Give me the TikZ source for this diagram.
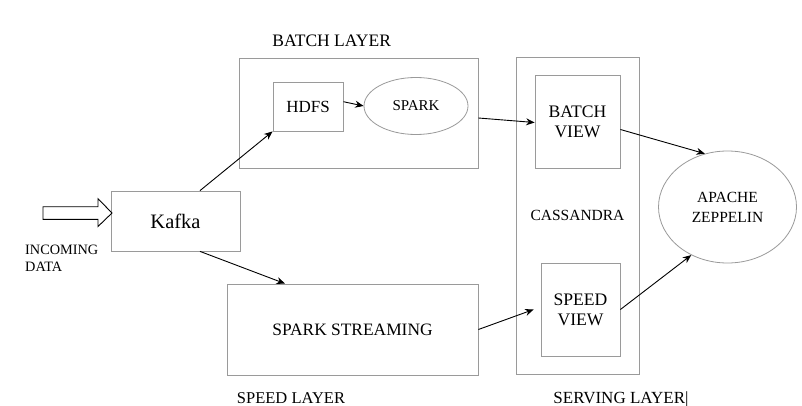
\documentclass[tikz,border=0pt]{standalone}
\usepackage{fontspec}
\setmainfont{Liberation Serif}
\usetikzlibrary{shapes.geometric,arrows.meta}
\definecolor{boxgray}{HTML}{9A9A9A}
\tikzset{
  box/.style={draw=boxgray, line width=0.8pt, rectangle, inner sep=0pt, align=center},
  oval/.style={draw=boxgray, line width=0.8pt, ellipse, inner sep=0pt, align=center},
  arr/.style={-{Stealth[length=8.5pt,width=7pt]}, line width=0.9pt, black},
  lbl/.style={inner sep=0pt, anchor=base},
}
\newcommand{\fsz}[2]{\fontsize{#1}{#2}\selectfont}
\begin{document}
\begin{tikzpicture}[x=1pt,y=-1pt]
\useasboundingbox[fill=white] (0,0) rectangle (802,406);

% containers
\node[box, minimum width=239pt, minimum height=110pt] (batch) at (358.5,113) {};
\node[box, minimum width=123pt, minimum height=317pt, font=\fsz{15.5}{18}] (cass) at (577.5,215.5) {CASSANDRA};
\node[box, minimum width=251pt, minimum height=91pt, font=\fsz{17.4}{20}] (stream) at (352.5,329.5) {SPARK STREAMING};

% inner nodes
\node[box, minimum width=129pt, minimum height=60pt, font=\fsz{20.5}{24}] (kafka) at (175.5,221) {Kafka};
\node[box, minimum width=70pt, minimum height=49pt, font=\fsz{17}{20}] (hdfs) at (308,106.5) {HDFS};
\node[oval, minimum width=104pt, minimum height=57pt, font=\fsz{15}{18}] (spark) at (416,106) {SPARK};
\node[box, fill=white, minimum width=85pt, minimum height=93pt, font=\fsz{17.6}{20}] (bview) at (577.5,121.5) {BATCH\\VIEW};
\node[box, fill=white, minimum width=79pt, minimum height=93pt, font=\fsz{17.6}{20}] (sview) at (580.5,309.5) {SPEED\\VIEW};
\node[oval, minimum width=138pt, minimum height=112pt, font=\fsz{15.5}{20}] (zep) at (727.5,207) {APACHE\\ZEPPELIN};

% labels
\node[lbl, font=\fsz{17.5}{20}] (lbatch) at (331.7,46.5) {BATCH LAYER};
\node[lbl, font=\fsz{16.5}{20}] (lspeed) at (291,403.5) {SPEED LAYER};
\node[lbl, font=\fsz{17}{20}] (lserv) at (621,403.5) {SERVING LAYER\textbar};
\node[inner sep=0pt, anchor=west, align=left, font=\fsz{14.3}{17}] (lin) at (25,258.5) {INCOMING\\DATA};

% input block arrow
\draw[line width=0.9pt, fill=white] (43,206.7) -- (98,206.7) -- (98,198.7) -- (112,213) -- (98,226.5) -- (98,219.3) -- (43,219.3) -- cycle;

% connectors
\draw[arr] ([xshift=24.5pt]kafka.north) -- (hdfs.south west);
\draw[arr] ([xshift=24.5pt]kafka.south) -- ([xshift=-67.5pt]stream.north);
\draw[arr] ([yshift=4.8pt]hdfs.east) -- (spark.west);
\draw[arr] ([yshift=-5pt]batch.east) -- ([yshift=-1pt]bview.west);
\draw[arr] ([yshift=-8pt]bview.east) -- (zep.113);
\draw[arr] (sview.east) -- (zep.233);
\draw[arr] (stream.east) -- ([xshift=-7pt]sview.west);
\end{tikzpicture}
\end{document}
